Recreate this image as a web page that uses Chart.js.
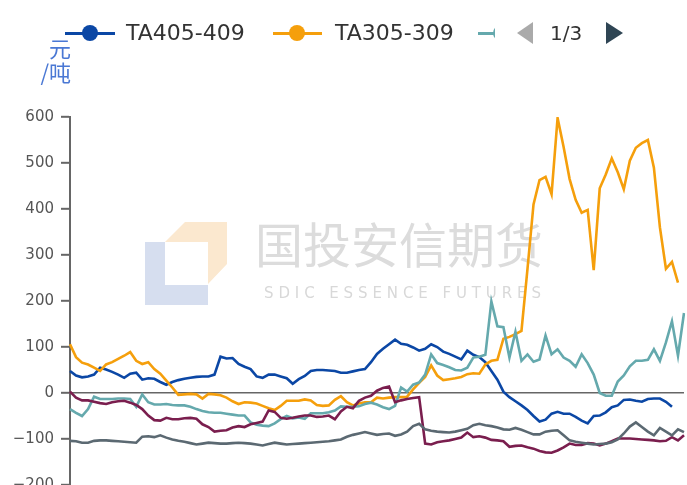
<!DOCTYPE html>
<html>
<head>
<meta charset="utf-8">
<script src="https://cdn.jsdelivr.net/npm/chart.js@4/dist/chart.umd.min.js"></script>
<style>
  html,body{margin:0;padding:0;background:#fff;overflow:hidden;}
  #wrap{position:relative;width:687px;height:485px;overflow:hidden;}
  canvas{position:absolute;left:0;top:0;}
  .lg{position:absolute;font-family:"DejaVu Sans",sans-serif;color:#333;}
  .ln{position:absolute;height:2.5px;}
  .dot{position:absolute;width:16px;height:16px;border-radius:50%;}
</style>
</head>
<body>
<div id="wrap">
  <canvas id="c" width="687" height="520"></canvas>
  <!-- legend -->
  <div class="ln" style="left:65px;top:32px;width:50px;background:#0b47a5"></div>
  <div class="dot" style="left:82px;top:25px;background:#0b47a5"></div>
  <div class="lg" id="l1" style="left:126px;top:19px;font-size:22px;line-height:28px;"></div>
  <div class="ln" style="left:273px;top:32px;width:49px;background:#f59f0c"></div>
  <div class="dot" style="left:289px;top:25px;background:#f59f0c"></div>
  <div class="lg" id="l2" style="left:335px;top:19px;font-size:22px;line-height:28px;"></div>
  <div style="position:absolute;left:478px;top:20px;width:17px;height:26px;overflow:hidden;">
    <div class="ln" style="left:0;top:12px;width:17px;background:#65a9ad"></div>
    <div style="position:absolute;left:15px;top:5px;border-radius:50%;width:16px;height:16px;background:#65a9ad;"></div>
  </div>
  <div style="position:absolute;left:517px;top:22px;width:0;height:0;border-top:11.5px solid transparent;border-bottom:11.5px solid transparent;border-right:16px solid #aaa;"></div>
  <div class="lg" style="left:550px;top:20px;font-size:20px;line-height:26px;color:#333;">1/3</div>
  <div style="position:absolute;left:606px;top:22px;width:0;height:0;border-top:11.5px solid transparent;border-bottom:11.5px solid transparent;border-left:17px solid #2f4554;"></div>
  <div style="position:absolute;left:0;top:35px;width:71px;text-align:right;font-family:'Noto Sans CJK SC',sans-serif;font-size:22px;line-height:24px;color:#4a78d4;">元<br>/吨</div>
</div>
<script>
const categories = Array.from({length: 103}, (_, i) => 'D' + (i + 1));
const yTicks = [600, 500, 400, 300, 200, 100, 0, -100, -200];
const seriesNames = ['TA405-409', 'TA305-309', 'TA505-509', 'TA205-209', 'TA105-109'];

const ta405 = [48,38,34,36,40,55,51,46,40,33,42,44,29,32,31,24,18,24,28,31,
  33,35,36,36,40,79,75,76,63,57,52,36,33,40,40,36,32,20,30,37,
  48,50,50,49,48,44,44,47,50,52,67,85,96,106,116,107,105,99,92,96,
  106,100,90,85,79,73,92,83,78,67,48,29,3,-9,-18,-27,-37,-50,-62,-58,
  -45,-41,-45,-45,-52,-60,-66,-50,-49,-42,-31,-27,-15,-14,-17,-19,-13,-12,-12,-19,
  -30,null,null];

const ta305 = [106,78,66,62,55,48,62,67,74,81,89,70,63,67,52,42,27,12,-4,-3,
  -2,-3,-12,-2,-3,-5,-10,-18,-24,-20,-21,-23,-28,-33,-37,-28,-17,-17,-17,-14,
  -16,-26,-28,-27,-15,-7,-20,-27,-23,-20,-20,-10,-12,-10,-9,-9,-8,8,22,35,
  60,38,28,30,32,35,41,43,42,62,70,72,118,122,128,135,270,410,463,470,
  432,598,535,465,420,392,398,267,445,475,510,480,443,505,533,543,550,490,360,270,
  285,240,null];

const ta505 = [-35,-43,-50,-35,-8,-13,-13,-13,-12,-12,-13,-30,-3,-20,-25,-25,-24,-26,-27,-27,
  -30,-35,-39,-42,-43,-43,-45,-47,-49,-49,-64,-69,-71,-72,-66,-57,-50,-55,-53,-56,
  -44,-44,-44,-42,-38,-29,-30,-30,-29,-24,-21,-25,-31,-35,-28,12,3,18,23,40,
  84,65,61,56,50,49,55,77,79,83,199,145,143,77,133,70,84,68,73,125,
  84,95,77,70,57,84,65,40,0,-6,-6,25,38,58,70,70,72,95,70,110,
  156,81,174];

const ta205 = [3,-10,-16,-16,-19,-22,-24,-20,-18,-17,-21,-26,-35,-49,-59,-60,-54,-57,-57,-55,
  -54,-56,-68,-74,-84,-82,-81,-75,-72,-74,-68,-65,-62,-38,-41,-54,-56,-54,-51,-49,
  -49,-52,-51,-49,-57,-40,-30,-33,-17,-10,-6,5,11,14,-20,-16,-13,-11,-9,-110,
  -112,-107,-105,-103,-100,-97,-86,-96,-94,-97,-102,-103,-105,-117,-115,-114,-118,-121,-126,-129,
  -130,-125,-118,-110,-113,-113,-109,-110,-114,-110,-105,-99,-99,-99,-100,-101,-102,-103,-105,-104,
  -96,-103,-92];

const ta105 = [-104,-105,-108,-108,-104,-103,-103,-104,-105,-106,-107,-108,-95,-94,-96,-92,-97,-101,-104,-106,
  -109,-112,-110,-108,-109,-110,-110,-109,-108,-109,-110,-112,-114,-111,-108,-110,-112,-111,-110,-109,
  -108,-107,-106,-105,-103,-101,-95,-91,-88,-85,-88,-91,-89,-88,-93,-90,-84,-72,-67,-79,
  -82,-84,-85,-86,-84,-81,-78,-70,-67,-70,-72,-75,-79,-80,-76,-80,-85,-90,-90,-84,
  -82,-81,-92,-103,-106,-108,-110,-112,-111,-110,-107,-101,-88,-73,-64,-74,-84,-92,-76,-84,
  -92,-79,-85];

const seriesValues = [ta405, ta305, ta505, ta205, ta105];
const seriesColors = ['#0b47a5', '#f59f0c', '#65a9ad', '#7a1e4e', '#5b6972'];

document.getElementById('l1').textContent = seriesNames[0];
document.getElementById('l2').textContent = seriesNames[1];

const watermark = {
  id: 'watermark',
  beforeDatasetsDraw(chart) {
    const ctx = chart.ctx;
    ctx.save();
    ctx.fillStyle = '#d6deef';
    ctx.beginPath();
    ctx.moveTo(145, 242); ctx.lineTo(165, 242); ctx.lineTo(165, 285);
    ctx.lineTo(208, 285); ctx.lineTo(208, 305); ctx.lineTo(145, 305); ctx.closePath();
    ctx.fill();
    ctx.fillStyle = '#fbe8cf';
    ctx.beginPath();
    ctx.moveTo(185, 222); ctx.lineTo(227, 222); ctx.lineTo(227, 264);
    ctx.lineTo(208, 284); ctx.lineTo(208, 242); ctx.lineTo(165, 242); ctx.closePath();
    ctx.fill();
    ctx.fillStyle = '#dcdcdc';
    ctx.font = '48px "Noto Sans CJK SC"';
    ctx.textBaseline = 'middle';
    ctx.textAlign = 'left';
    ctx.fillText('国投安信期货', 255, 245);
    ctx.font = '15px "DejaVu Sans"';
    ctx.fillStyle = '#d8d8d8';
    const s = 'SDIC ESSENCE FUTURES';
    let x = 264;
    for (const ch of s) {
      ctx.fillText(ch, x, 294);
      x += ctx.measureText(ch).width + 4.9;
    }
    ctx.restore();
  }
};

new Chart(document.getElementById('c'), {
  type: 'line',
  data: {
    labels: categories,
    datasets: seriesValues.map((v, i) => ({
      label: seriesNames[i],
      data: v,
      borderColor: seriesColors[i],
      backgroundColor: seriesColors[i],
      borderWidth: 2.6,
      pointRadius: 0,
      tension: 0,
      fill: false,
      spanGaps: false
    })).reverse()
  },
  options: {
    responsive: false,
    devicePixelRatio: 1,
    animation: false,
    layout: { padding: { top: 117, bottom: 35, left: 0, right: 3 } },
    plugins: { legend: { display: false }, tooltip: { enabled: false } },
    scales: {
      x: { display: false },
      y: {
        min: -200, max: 600,
        afterFit(scale) { scale.width = 70; },
        afterBuildTicks(scale) { scale.ticks = yTicks.map(v => ({ value: v })); },
        border: { display: true, color: '#666', width: 2 },
        grid: {
          color: ctx => (ctx.tick && ctx.tick.value === 0) ? '#666' : 'rgba(0,0,0,0)',
          lineWidth: 1.6,
          tickColor: '#666',
          tickWidth: 2,
          tickLength: 9,
          drawTicks: true
        },
        ticks: {
          padding: 7,
          color: '#555',
          font: { family: '"DejaVu Sans"', size: 15 },
          callback: v => (v < 0 ? '\u2212' + Math.abs(v) : String(v))
        }
      }
    }
  },
  plugins: [watermark]
});
</script>
</body>
</html>
